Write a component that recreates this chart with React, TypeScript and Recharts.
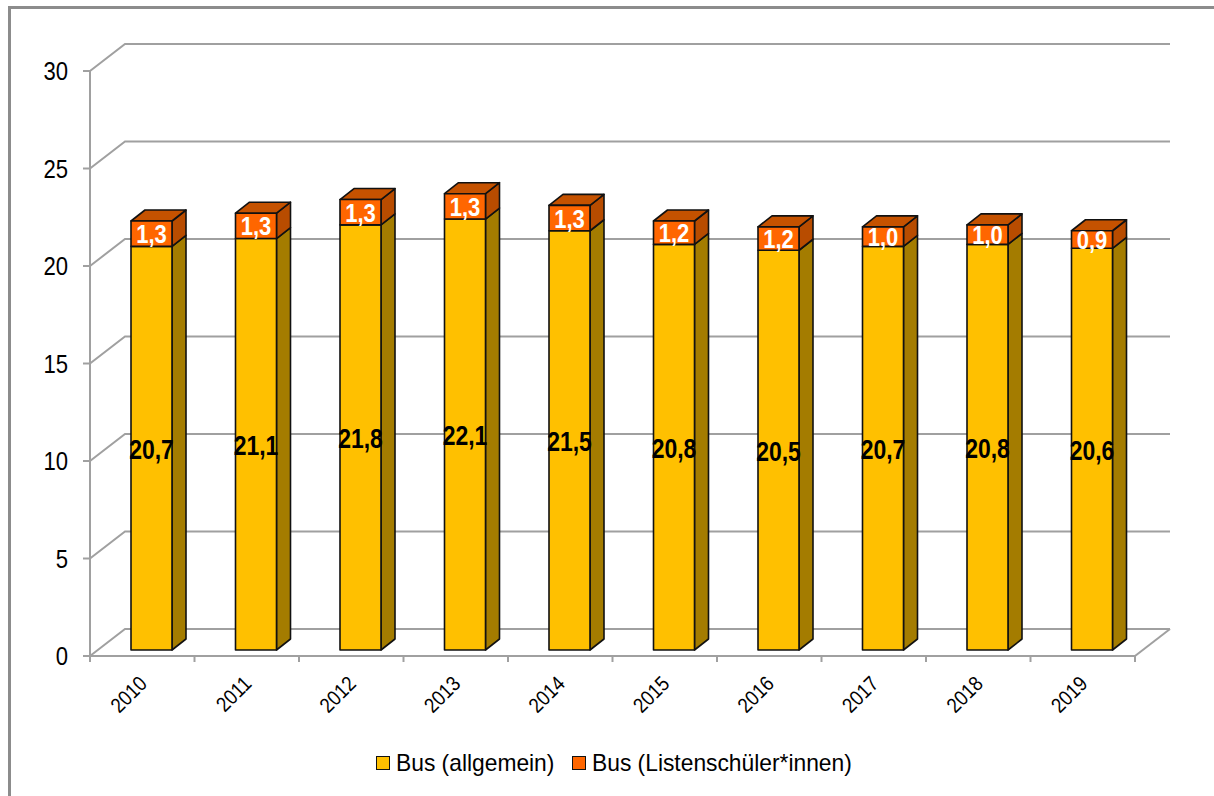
import React from 'react'
import { BarChart, Bar, XAxis, YAxis, CartesianGrid, LabelList } from 'recharts'

const years = ['2010', '2011', '2012', '2013', '2014', '2015', '2016', '2017', '2018', '2019']
const busGeneral = [20.7, 21.1, 21.8, 22.1, 21.5, 20.8, 20.5, 20.7, 20.8, 20.6]
const busList = [1.3, 1.3, 1.3, 1.3, 1.3, 1.2, 1.2, 1.0, 1.0, 0.9]
const yTicks = [0, 5, 10, 15, 20, 25, 30]
const seriesNames = ['Bus (allgemein)', 'Bus (Listenschüler*innen)']

const data = years.map((year, i) => ({ year, general: busGeneral[i], list: busList[i] }))

const W = 1214
const H = 796
const PLOT = { left: 90, right: 1135, top: 71, bottom: 656 }
const WALL = { dx: 35, dy: -27 } // back wall offset
const FACE = { dx: 9, dy: -6 } // front face of the bars sits a bit behind the axis plane
const DEPTH = { dx: 14, dy: -11 } // bar depth

const GRID = '#a0a0a0'
const FONT = '"Liberation Sans", Arial, sans-serif'

const YELLOW = { front: '#FFC000', side: '#A47C00', top: '#D9A300' }
const ORANGE = { front: '#FF6600', side: '#B84C00', top: '#C55200' }

const fmt = (v: number) => v.toFixed(1).replace('.', ',')

function boxShape(c: { front: string; side: string; top: string }, withTop: boolean) {
  return (props: any) => {
    const { x, y, width, height } = props
    if (!height) return <g />
    const fx = x + FACE.dx
    const fy = y + FACE.dy
    const r = fx + width
    const b = fy + height
    const side = `${r},${fy} ${r + DEPTH.dx},${fy + DEPTH.dy} ${r + DEPTH.dx},${b + DEPTH.dy} ${r},${b}`
    const top = `${fx},${fy} ${fx + DEPTH.dx},${fy + DEPTH.dy} ${r + DEPTH.dx},${fy + DEPTH.dy} ${r},${fy}`
    return (
      <g stroke="#111" strokeWidth={1.6} strokeLinejoin="round">
        <polygon points={side} fill={c.side} />
        {withTop && <polygon points={top} fill={c.top} />}
        <rect x={fx} y={fy} width={width} height={height} fill={c.front} />
      </g>
    )
  }
}

function valueLabel(color: string, size: number, sx: number) {
  return (props: any) => {
    const { x, y, width, height, value } = props
    const cx = x + FACE.dx + width / 2
    const cy = y + FACE.dy + height / 2 + 1
    return (
      <text transform={`translate(${cx},${cy}) scale(${sx},1)`} textAnchor="middle" dominantBaseline="central"
        fill={color} fontFamily={FONT} fontWeight="bold" fontSize={size}>
        {fmt(Number(value))}
      </text>
    )
  }
}

const gridLine = (props: any) => {
  const { x1, x2, y1 } = props
  const isFloor = Math.abs(y1 - PLOT.bottom) < 1
  return (
    <g key={`g-${y1}`}>
      <polyline points={`${x1},${y1} ${x1 + WALL.dx},${y1 + WALL.dy} ${x2 + WALL.dx},${y1 + WALL.dy}`}
        fill="none" stroke={GRID} strokeWidth={2} />
      {isFloor && <line x1={x2} y1={y1} x2={x2 + WALL.dx} y2={y1 + WALL.dy} stroke={GRID} strokeWidth={2} />}
    </g>
  )
}

const YTick = (props: any) => {
  const { x, y, payload } = props
  return (
    <text transform={`translate(${x},${y}) scale(0.85,1)`} textAnchor="end" dominantBaseline="central"
      fill="#000" fontFamily={FONT} fontSize={26}>
      {payload.value}
    </text>
  )
}

const XTick = (props: any) => {
  const { x, payload, index } = props
  const bw = (PLOT.right - PLOT.left) / years.length
  const left = x - bw / 2
  const ax = x + 6
  const ay = PLOT.bottom + 29
  return (
    <g>
      <line x1={left} y1={PLOT.bottom} x2={left} y2={PLOT.bottom + 6} stroke={GRID} strokeWidth={2} />
      {index === years.length - 1 && (
        <line x1={left + bw} y1={PLOT.bottom} x2={left + bw} y2={PLOT.bottom + 6} stroke={GRID} strokeWidth={2} />
      )}
      <text transform={`translate(${ax},${ay}) rotate(-45) scale(0.88,1)`} textAnchor="end"
        fill="#000" fontFamily={FONT} fontSize={21}>
        {payload.value}
      </text>
    </g>
  )
}

export default function App() {
  return (
    <div style={{ position: 'absolute', left: 0, top: 0, width: W, height: H, background: '#fff', overflow: 'hidden' }}>
      <div style={{ position: 'absolute', left: 8, top: 6, right: -10, bottom: -10, borderTop: '3px solid #8c8c8c', borderLeft: '3px solid #8c8c8c' }} />
      <div style={{ position: 'absolute', left: 0, top: 0 }}>
        <BarChart width={W} height={H} data={data} barSize={41}
          margin={{ top: PLOT.top, right: W - PLOT.right, bottom: 0, left: 0 }}>
          <CartesianGrid vertical={false} horizontal={gridLine} />
          <XAxis dataKey="year" height={H - PLOT.bottom} axisLine={{ stroke: GRID, strokeWidth: 2 }} tickLine={false}
            tick={<XTick />} interval={0} />
          <YAxis domain={[0, 30]} ticks={yTicks} width={PLOT.left} axisLine={{ stroke: GRID, strokeWidth: 2 }}
            tickLine={{ stroke: GRID, strokeWidth: 2 }} tickSize={7} tickMargin={15} tick={<YTick />} />
          <Bar dataKey="general" stackId="bus" isAnimationActive={false} shape={boxShape(YELLOW, false)}>
            <LabelList dataKey="general" content={valueLabel('#000', 28, 0.82)} />
          </Bar>
          <Bar dataKey="list" stackId="bus" isAnimationActive={false} shape={boxShape(ORANGE, true)}>
            <LabelList dataKey="list" content={valueLabel('#fff', 25, 0.88)} />
          </Bar>
        </BarChart>
      </div>
      <div style={{ position: 'absolute', left: 376, top: 749, display: 'flex', alignItems: 'center', fontFamily: FONT, fontSize: 24, color: '#000', lineHeight: '28px' }}>
        {seriesNames.map((name, i) => (
          <div key={name} style={{ display: 'flex', alignItems: 'center', marginRight: i === 0 ? 20 : 0 }}>
            <div style={{ width: 14, height: 14, boxSizing: 'border-box', border: '1.5px solid #111', background: i === 0 ? YELLOW.front : ORANGE.front, marginRight: 6 }} />
            <span style={{ display: 'inline-block', transform: 'scaleX(0.95)', transformOrigin: 'left center', width: i === 0 ? 156 : 265, whiteSpace: 'nowrap' }}>{name}</span>
          </div>
        ))}
      </div>
    </div>
  )
}
